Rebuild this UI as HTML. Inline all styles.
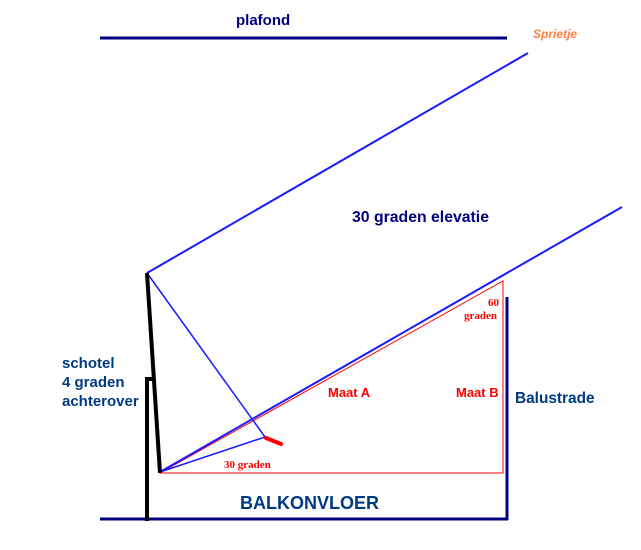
<!DOCTYPE html>
<html><head><meta charset="utf-8"><style>
html,body{margin:0;padding:0;background:#fff;width:641px;height:550px;overflow:hidden}
svg{display:block}
text{font-family:"Liberation Sans",sans-serif;font-weight:bold}
</style></head><body>
<svg width="641" height="550" viewBox="0 0 641 550" xmlns="http://www.w3.org/2000/svg">
<line x1="100" y1="38" x2="507" y2="38" stroke="#000080" stroke-width="3"/>
<line x1="100" y1="519" x2="508" y2="519" stroke="#000080" stroke-width="3"/>
<line x1="507" y1="297" x2="507" y2="520" stroke="#000080" stroke-width="3"/>
<polyline points="160,473 503,473 503,281 160,473" fill="none" stroke="#ff0000" stroke-width="1"/>
<line x1="147" y1="273" x2="528" y2="53" stroke="#1a1aff" stroke-width="2"/>
<line x1="160" y1="472" x2="622" y2="207" stroke="#1a1aff" stroke-width="2"/>
<line x1="147" y1="273" x2="265" y2="437" stroke="#1a1aff" stroke-width="1.5"/>
<line x1="160" y1="472" x2="265" y2="437" stroke="#1a1aff" stroke-width="1.5"/>
<line x1="266" y1="438" x2="281" y2="444" stroke="#ff0000" stroke-width="4" stroke-linecap="round"/>
<line x1="147" y1="273" x2="160" y2="473" stroke="#000" stroke-width="4"/>
<polyline points="147,521 147,379 155,379" fill="none" stroke="#000" stroke-width="4"/>
<text x="236" y="25" font-size="15" fill="#000080">plafond</text>
<text x="533" y="38" font-size="12" fill="#ff8040" font-style="italic" font-weight="normal">Sprietje</text>
<text x="352" y="222" font-size="15.8" fill="#000080">30 graden elevatie</text>
<text x="62" y="368" font-size="15" fill="#003a80">schotel</text>
<text x="62" y="387" font-size="15" fill="#003a80">4 graden</text>
<text x="62" y="406" font-size="15" fill="#003a80">achterover</text>
<text x="328" y="397" font-size="13" fill="#ff0000">Maat A</text>
<text x="456" y="397" font-size="13" fill="#ff0000">Maat B</text>
<text x="515" y="403" font-size="15.4" fill="#003a80">Balustrade</text>
<text x="499" y="306" font-size="11" fill="#ff0000" text-anchor="end" style="font-family:'Liberation Serif',serif">60</text>
<text x="497" y="319" font-size="11" fill="#ff0000" text-anchor="end" style="font-family:'Liberation Serif',serif">graden</text>
<text x="224" y="468" font-size="11" fill="#ff0000" style="font-family:'Liberation Serif',serif">30 graden</text>
<text x="240" y="509" font-size="18" fill="#003a80">BALKONVLOER</text>
</svg>
</body></html>
